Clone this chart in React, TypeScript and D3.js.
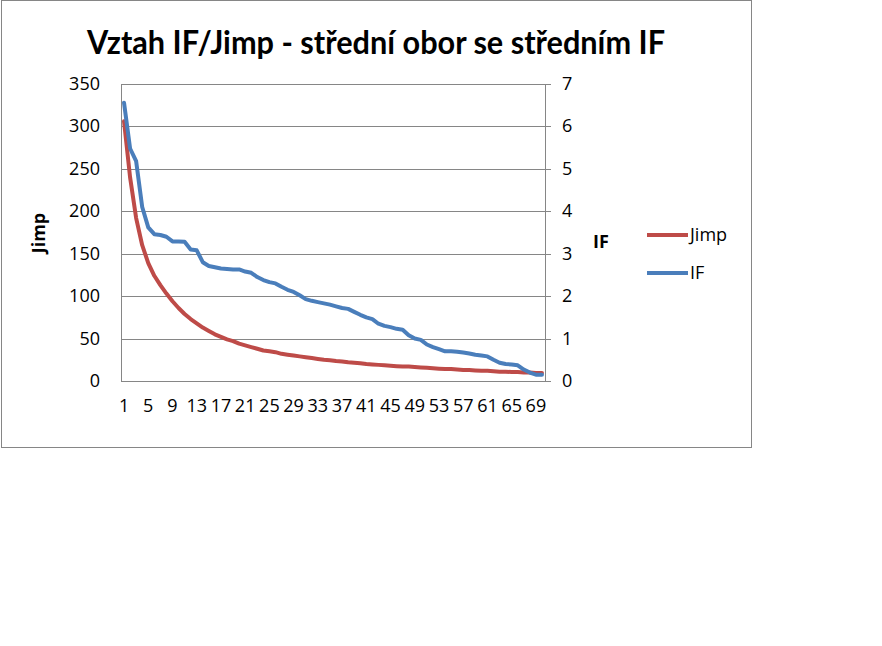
import React from "react";
import * as d3 from "d3";

// Journal rank (1..70) with impact metrics
const ranks: number[] = Array.from({ length: 70 }, (_, i) => i + 1);

const jimpValues: number[] = [
  306, 240, 192, 160, 139, 124, 113, 103, 94, 86,
  79, 73, 68, 63, 59, 55, 52, 49, 47, 44,
  42, 40, 38, 36, 35, 34, 32, 31, 30, 29,
  28, 27, 26, 25, 24.5, 23.5, 23, 22, 21.5, 21,
  20, 19.5, 19, 18.5, 18, 17.5, 17, 17, 16.5, 16,
  15.5, 15, 14.5, 14, 14, 13.5, 13, 13, 12.5, 12,
  12, 11.5, 11, 11, 10.5, 10.5, 10, 10, 9.5, 9.5,
];

const ifValues: number[] = [
  6.56, 5.48, 5.18, 4.1, 3.62, 3.46, 3.44, 3.4, 3.29, 3.29,
  3.28, 3.1, 3.08, 2.8, 2.71, 2.68, 2.65, 2.64, 2.63, 2.63,
  2.58, 2.55, 2.45, 2.38, 2.33, 2.3, 2.22, 2.15, 2.1, 2.02,
  1.93, 1.89, 1.86, 1.83, 1.8, 1.76, 1.72, 1.7, 1.63, 1.56,
  1.5, 1.46, 1.35, 1.3, 1.27, 1.23, 1.21, 1.08, 1.0, 0.97,
  0.86, 0.8, 0.75, 0.7, 0.7, 0.69, 0.67, 0.65, 0.62, 0.6,
  0.58, 0.5, 0.43, 0.4, 0.39, 0.37, 0.27, 0.2, 0.15, 0.15,
];

const leftTicks: number[] = [0, 50, 100, 150, 200, 250, 300, 350];
const rightTicks: number[] = [0, 1, 2, 3, 4, 5, 6, 7];
const xTickLabels: number[] = ranks.filter((r) => (r - 1) % 4 === 0);

const title = "Vztah IF/Jimp - střední obor se středním IF";
const seriesNames = ["Jimp", "IF"];

const RED = "#BE4B48";
const BLUE = "#4A7EBB";
const GRID = "#868686";
const FONT = "'Open Sans', 'Noto Sans', sans-serif";

export default function App() {
  const plotLeft = 121;
  const plotRight = 545;
  const plotTop = 84;
  const plotBottom = 381;

  const x = d3
    .scaleBand<number>()
    .domain(ranks)
    .range([plotLeft, plotRight])
    .padding(0);
  const cx = (r: number) => (x(r) as number) + x.bandwidth() / 2;

  const yLeft = d3.scaleLinear().domain([0, 350]).range([plotBottom, plotTop]);
  const yRight = d3.scaleLinear().domain([0, 7]).range([plotBottom, plotTop]);

  const jimpLine = d3
    .line<number>()
    .x((_, i) => cx(ranks[i]))
    .y((d) => yLeft(d));
  const ifLine = d3
    .line<number>()
    .x((_, i) => cx(ranks[i]))
    .y((d) => yRight(d));

  return (
    <svg
      width={882}
      height={646}
      style={{ position: "absolute", left: 0, top: 0, background: "#fff" }}
      fontFamily={FONT}
    >
      <rect x={0} y={0} width={882} height={646} fill="#fff" />
      {/* chart frame */}
      <rect x={1.5} y={0.5} width={750} height={447} fill="#fff" stroke={GRID} strokeWidth={1} />

      <text
        x={376}
        y={54}
        textAnchor="middle"
        fontFamily="Lato, 'Open Sans', sans-serif"
        fontWeight={700}
        fontSize={32}
        textLength={578}
        lengthAdjust="spacingAndGlyphs"
        fill="#000"
      >
        {title}
      </text>

      {/* horizontal gridlines */}
      {leftTicks.map((t) => (
        <line
          key={`g${t}`}
          x1={plotLeft}
          x2={plotRight}
          y1={Math.round(yLeft(t)) + 0.5}
          y2={Math.round(yLeft(t)) + 0.5}
          stroke={GRID}
          strokeWidth={1}
        />
      ))}

      {/* axes */}
      <line x1={plotLeft + 0.5} x2={plotLeft + 0.5} y1={plotTop} y2={plotBottom + 0.5} stroke={GRID} />
      <line x1={plotRight + 0.5} x2={plotRight + 0.5} y1={plotTop} y2={plotBottom + 0.5} stroke={GRID} />
      {rightTicks.map((t) => (
        <line
          key={`rt${t}`}
          x1={plotRight}
          x2={plotRight + 6}
          y1={Math.round(yRight(t)) + 0.5}
          y2={Math.round(yRight(t)) + 0.5}
          stroke={GRID}
        />
      ))}

      {/* left tick labels */}
      {leftTicks.map((t) => (
        <text key={`lt${t}`} x={100} y={yLeft(t) + 6} textAnchor="end" fontSize={18} fill="#000">
          {t}
        </text>
      ))}
      {/* right tick labels */}
      {rightTicks.map((t) => (
        <text key={`rl${t}`} x={562} y={yRight(t) + 6} textAnchor="start" fontSize={18} fill="#000">
          {t}
        </text>
      ))}
      {/* category labels */}
      {xTickLabels.map((r) => (
        <text key={`xl${r}`} x={cx(r)} y={412} textAnchor="middle" fontSize={18} fill="#000">
          {r}
        </text>
      ))}

      {/* axis titles */}
      <text
        transform="translate(45,233) rotate(-90)"
        textAnchor="middle"
        fontSize={18}
        fontWeight={700}
        fill="#000"
      >
        Jimp
      </text>
      <text x={601} y={248} textAnchor="middle" fontSize={18} fontWeight={700} fill="#000">
        IF
      </text>

      {/* series */}
      <path
        d={jimpLine(jimpValues) ?? ""}
        fill="none"
        stroke={RED}
        strokeWidth={4}
        strokeLinejoin="round"
        strokeLinecap="round"
      />
      <path
        d={ifLine(ifValues) ?? ""}
        fill="none"
        stroke={BLUE}
        strokeWidth={4}
        strokeLinejoin="round"
        strokeLinecap="round"
      />

      {/* legend */}
      {seriesNames.map((name, i) => {
        const ly = 235 + i * 38;
        const color = i === 0 ? RED : BLUE;
        return (
          <g key={name}>
            <line x1={647} x2={688} y1={ly} y2={ly} stroke={color} strokeWidth={4} />
            <text x={690} y={ly + 6} fontSize={18} fill="#000">
              {name}
            </text>
          </g>
        );
      })}
    </svg>
  );
}
